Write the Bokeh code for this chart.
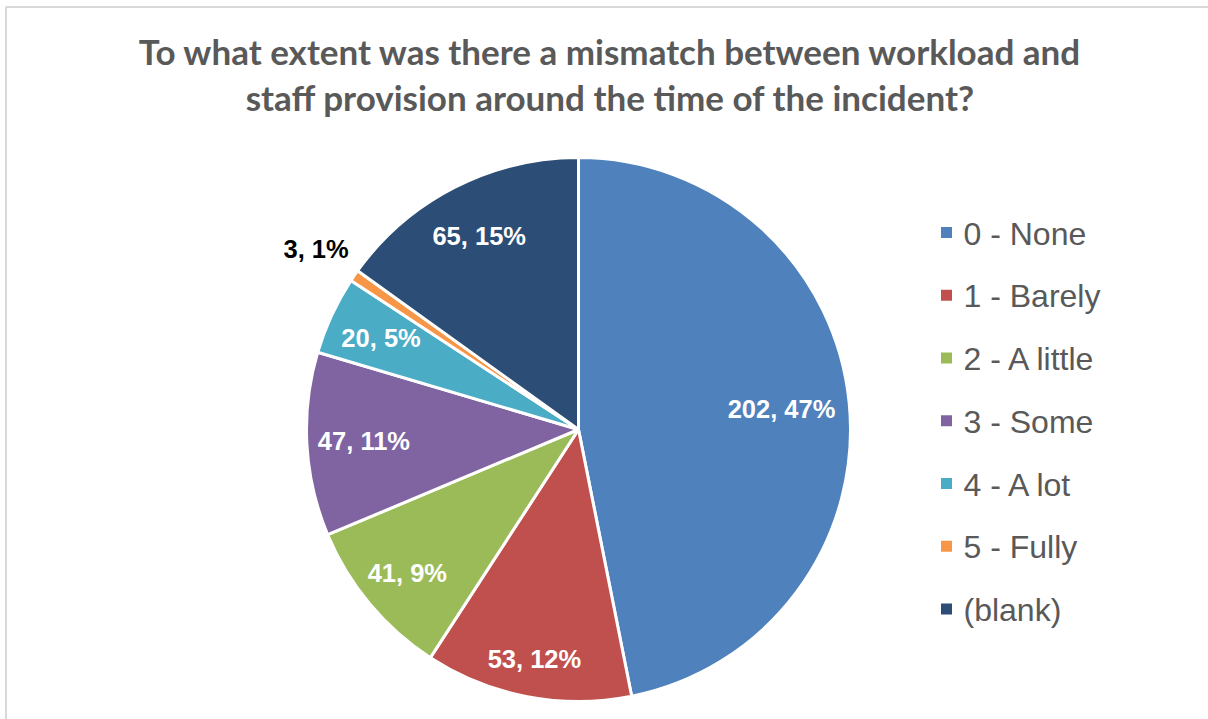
import math
from bokeh.plotting import figure
from bokeh.models import Range1d, ColumnDataSource
from bokeh.core.properties import value
from bokeh.embed import file_html
from bokeh.resources import INLINE

# ---- data ----
categories = ["0 - None", "1 - Barely", "2 - A little", "3 - Some", "4 - A lot", "5 - Fully", "(blank)"]
counts = [202, 53, 41, 47, 20, 3, 65]
percent_labels = ["47%", "12%", "9%", "11%", "5%", "1%", "15%"]
colors = ["#4F81BD", "#C0504D", "#9BBB59", "#8064A2", "#4BACC6", "#F79646", "#2C4D75"]
title_lines = ["To what extent was there a mismatch between workload and",
               "staff provision around the time of the incident?"]

# ---- layout ----
W, H = 1208, 719
CX, CY, R = 578, 290, 272
label_r = [0.75, 0.86, 0.82, 0.79, 0.80, 1.17, 0.80]
label_colors = ["white", "white", "white", "white", "white", "black", "white"]

p = figure(width=W, height=H, output_backend="svg", toolbar_location=None,
           x_range=Range1d(0, W), y_range=Range1d(0, H), min_border=0)
p.axis.visible = False
p.grid.visible = False
p.outline_line_color = None
p.background_fill_color = "white"

# chart-area border (left and top edges visible)
p.line(x=[5.5, 5.5, W], y=[0, H - 6.5, H - 6.5], line_color="#d9d9d9", line_width=2)

total = sum(counts)
starts, ends, lx, ly, texts = [], [], [], [], []
cum = 0
for i, c in enumerate(counts):
    a0 = math.pi / 2 - 2 * math.pi * cum / total
    cum += c
    a1 = math.pi / 2 - 2 * math.pi * cum / total
    starts.append(a0)
    ends.append(a1)
    mid = (a0 + a1) / 2
    lx.append(CX + R * label_r[i] * math.cos(mid))
    ly.append(CY + R * label_r[i] * math.sin(mid))
    texts.append(f"{c}, {percent_labels[i]}")

src = ColumnDataSource(dict(start=starts, end=ends, color=colors, lx=lx, ly=ly,
                            text=texts, tcolor=label_colors, cat=categories))
p.wedge(x=CX, y=CY, radius=R, start_angle="start", end_angle="end",
        direction="clock", fill_color="color", line_color="white", line_width=3,
        source=src)
p.text(x="lx", y="ly", text="text", text_color="tcolor", source=src,
       text_font=value("Liberation Sans"), text_font_style="bold",
       text_font_size="25.5px", text_align="center", text_baseline="middle")

# title
p.text(x=[W / 2 + 6, W / 2 + 6], y=[669, 623], text=title_lines,
       text_font=value("Lato"), text_font_style="bold", text_font_size="35px",
       text_color="#595959", text_align="center", text_baseline="alphabetic")

# legend
LX, LY0, LDY = 946, 487, 62.75
leg_y = [LY0 - i * LDY for i in range(len(categories))]
p.scatter(x=[LX] * len(categories), y=leg_y, marker="square", size=11,
          fill_color=colors, line_color=None)
p.text(x=[LX + 17] * len(categories), y=[v - 1 for v in leg_y], text=categories,
       text_font=value("Liberation Sans"), text_font_size="32px",
       text_color="#595959", text_align="left", text_baseline="middle")

open("out.html", "w").write(file_html(p, INLINE))
